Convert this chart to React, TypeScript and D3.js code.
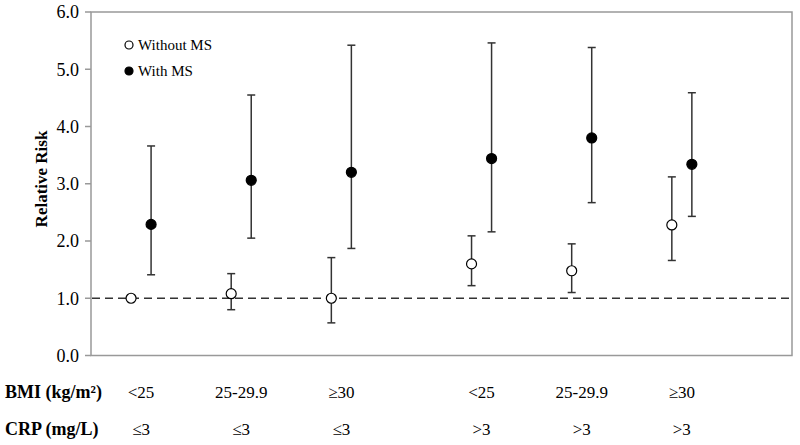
import React from "react";
import * as d3 from "d3";

const bmiLabels = ["<25", "25-29.9", "≥30", "<25", "25-29.9", "≥30"];
const crpLabels = ["≤3", "≤3", "≤3", ">3", ">3", ">3"];
const groupX = [0.5, 1.5, 2.5, 3.9, 4.9, 5.9];

const withoutRR = [1.0, 1.08, 1.0, 1.6, 1.48, 2.28];
const withoutLo = [1.0, 0.8, 0.57, 1.22, 1.1, 1.66];
const withoutHi = [1.0, 1.43, 1.71, 2.09, 1.95, 3.12];

const withRR = [2.29, 3.06, 3.2, 3.44, 3.8, 3.34];
const withLo = [1.41, 2.05, 1.87, 2.16, 2.67, 2.43];
const withHi = [3.66, 4.55, 5.42, 5.46, 5.38, 4.59];

const yTicks = [0, 1, 2, 3, 4, 5, 6];

const W = 800, H = 445;
const left = 91, right = 792, top = 12, bottom = 355.5;

export default function App() {
  const x = d3.scaleLinear().domain([0, 7]).range([left, right]);
  const y = d3.scaleLinear().domain([0, 6]).range([bottom, top]);
  const font = "'Liberation Serif', 'Times New Roman', serif";
  const stroke = "#333";

  const series = [
    { rr: withoutRR, lo: withoutLo, hi: withoutHi, off: -0.1, fill: "#fff" },
    { rr: withRR, lo: withLo, hi: withHi, off: 0.1, fill: "#000" },
  ];

  return (
    <svg width={W} height={H} style={{ position: "absolute", left: 0, top: 0, background: "#fff" }} fontFamily={font}>
      <rect x={0} y={0} width={W} height={H} fill="#fff" />
      <rect x={left} y={top} width={right - left} height={bottom - top} fill="none" stroke="#999" strokeWidth={1.5} />
      {yTicks.map((t) => (
        <g key={t}>
          <line x1={left - 6} x2={left} y1={y(t)} y2={y(t)} stroke="#999" strokeWidth={1.5} />
          <text x={79} y={y(t)} dy="0.35em" textAnchor="end" fontSize={18} fill="#000">
            {t.toFixed(1)}
          </text>
        </g>
      ))}
      <text transform={`translate(47,179) rotate(-90)`} textAnchor="middle" fontSize={17} fontWeight="bold">
        Relative Risk
      </text>
      <line x1={left + 1} x2={right - 2} y1={y(1)} y2={y(1)} stroke={stroke} strokeWidth={1.5} strokeDasharray="8,5" />
      {series.map((s, si) =>
        s.rr.map((v, i) => {
          const cx = x(groupX[i] + s.off);
          const showBar = s.hi[i] !== s.lo[i];
          return (
            <g key={`${si}-${i}`}>
              {showBar && (
                <>
                  <line x1={cx} x2={cx} y1={y(s.lo[i])} y2={y(s.hi[i])} stroke={stroke} strokeWidth={1.5} />
                  <line x1={cx - 4} x2={cx + 4} y1={y(s.lo[i])} y2={y(s.lo[i])} stroke={stroke} strokeWidth={1.5} />
                  <line x1={cx - 4} x2={cx + 4} y1={y(s.hi[i])} y2={y(s.hi[i])} stroke={stroke} strokeWidth={1.5} />
                </>
              )}
              <circle cx={cx} cy={y(v)} r={5} fill={s.fill} stroke="#000" strokeWidth={1.2} />
            </g>
          );
        })
      )}
      <circle cx={129} cy={45} r={4} fill="#fff" stroke="#000" strokeWidth={1.2} />
      <text x={138} y={45} dy="0.35em" fontSize={15}>Without MS</text>
      <circle cx={129} cy={71} r={4} fill="#000" stroke="#000" strokeWidth={1.2} />
      <text x={138} y={71} dy="0.35em" fontSize={15}>With MS</text>

      <text x={5} y={392} dy="0.35em" fontSize={18} fontWeight="bold">BMI (kg/m²)</text>
      <text x={5} y={429} dy="0.35em" fontSize={18} fontWeight="bold">CRP (mg/L)</text>
      {bmiLabels.map((l, i) => (
        <text key={`b${i}`} x={x(groupX[i])} y={392} dy="0.35em" textAnchor="middle" fontSize={17}>{l}</text>
      ))}
      {crpLabels.map((l, i) => (
        <text key={`c${i}`} x={x(groupX[i])} y={429} dy="0.35em" textAnchor="middle" fontSize={17}>{l}</text>
      ))}
    </svg>
  );
}
